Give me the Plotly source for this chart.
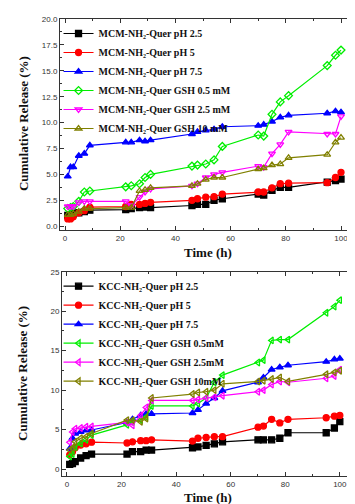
import plotly.graph_objects as go

# ---------------- data ----------------
time_h = [1, 2, 3, 5, 7, 9, 22, 24, 27, 29, 31, 46, 48, 51, 54, 57, 70, 72, 75, 78, 81, 95, 98, 100]

# MCM-NH2-Quer (top panel)
mcm_names = ["MCM-NH₂-Quer pH 2.5", "MCM-NH₂-Quer pH 5", "MCM-NH₂-Quer pH 7.5",
             "MCM-NH₂-Quer GSH 0.5 mM", "MCM-NH₂-Quer GSH 2.5 mM", "MCM-NH₂-Quer GSH 10 mM"]
mcm_ph25 = [1.05, 1.1, 1.2, 1.3, 1.4, 1.55, 1.6, 1.7, 1.8, 1.85, 1.8, 2.0, 2.1, 2.1, 2.5, 2.65, 3.1, 3.0, 3.45, 3.75, 3.75, 4.25, 4.4, 4.55]
mcm_ph5 = [0.7, 0.7, 0.9, 1.3, 1.5, 1.85, 1.9, 2.1, 2.1, 2.2, 2.3, 2.5, 2.65, 2.8, 2.85, 3.1, 3.3, 3.3, 3.7, 4.1, 4.15, 4.2, 4.7, 5.2]
mcm_ph75 = [4.8, 5.7, 5.7, 6.8, 7.0, 7.8, 8.1, 8.1, 8.3, 8.2, 8.3, 8.9, 9.1, 9.25, 9.35, 9.6, 9.7, 9.8, 10.1, 10.5, 10.7, 10.9, 11.1, 11.0]
mcm_gsh05 = [1.7, 1.8, 1.9, 2.4, 3.3, 3.4, 3.8, 3.9, 4.1, 4.7, 5.0, 5.8, 5.9, 6.0, 6.4, 7.7, 8.8, 8.7, 10.8, 12.0, 12.6, 15.5, 16.5, 17.0]
mcm_gsh25 = [1.9, 1.9, 1.9, 2.3, 2.4, 2.4, 2.4, 2.0, 2.8, 3.3, 3.6, 3.9, 4.1, 4.7, 5.0, 5.2, 5.8, 5.7, 7.0, 7.9, 9.1, 8.9, 8.9, 10.6]
mcm_gsh10 = [1.1, 1.1, 1.2, 1.4, 1.7, 1.7, 1.8, 1.8, 3.4, 3.5, 3.7, 3.9, 4.1, 4.5, 4.7, 4.7, 5.5, 5.6, 5.9, 6.0, 6.6, 6.9, 8.1, 8.55]

# KCC-NH2-Quer (bottom panel)
kcc_names = ["KCC-NH₂-Quer pH 2.5", "KCC-NH₂-Quer pH 5", "KCC-NH₂-Quer pH 7.5",
             "KCC-NH₂-Quer GSH 0.5mM", "KCC-NH₂-Quer GSH 2.5mM", "KCC-NH₂-Quer GSH 10mM"]
kcc_ph25 = [0.6, 0.7, 0.95, 1.4, 1.7, 1.9, 1.9, 2.2, 2.2, 2.4, 2.4, 2.7, 2.8, 3.0, 3.2, 3.45, 3.7, 3.7, 3.7, 3.9, 4.6, 4.6, 5.2, 6.0]
kcc_ph5 = [1.8, 2.2, 2.7, 3.05, 3.2, 3.4, 3.3, 3.45, 3.6, 3.6, 3.7, 3.55, 3.9, 4.0, 4.1, 4.1, 5.3, 5.45, 6.3, 5.85, 6.3, 6.5, 6.7, 6.8]
kcc_ph75 = [2.6, 3.9, 4.5, 4.7, 4.9, 4.95, 5.9, 6.3, 6.8, 7.0, 7.0, 7.1, 7.5, 8.3, 9.0, 9.9, 11.0, 11.6, 12.6, 12.9, 13.15, 13.6, 13.9, 14.0]
kcc_gsh05 = [1.6, 1.9, 2.8, 3.25, 3.7, 4.3, 5.6, 6.0, 6.2, 6.6, 8.0, 8.0, 8.3, 9.0, 11.0, 11.9, 13.5, 13.8, 16.3, 16.4, 16.4, 19.8, 20.6, 21.4]
kcc_gsh25 = [3.4, 4.7, 5.1, 5.2, 5.35, 5.4, 5.9, 5.55, 6.8, 7.8, 8.7, 8.7, 8.8, 9.0, 9.1, 9.3, 9.8, 10.0, 10.7, 11.1, 11.0, 11.5, 11.8, 12.6]
kcc_gsh10 = [2.4, 2.7, 3.45, 3.9, 4.1, 4.5, 6.2, 6.2, 6.0, 6.4, 9.0, 9.5, 9.7, 9.8, 10.0, 10.8, 11.1, 11.2, 11.4, 11.6, 11.1, 12.0, 12.25, 12.45]

colors = ["#000000", "#FF0000", "#0000FF", "#00EE00", "#FF00FF", "#808000"]
mcm_symbols = ["square", "circle", "triangle-up", "diamond-open", "triangle-down-open", "triangle-up-open"]
kcc_symbols = ["square", "circle", "triangle-up", "triangle-left-open", "triangle-left-open", "triangle-left-open"]

mcm_series = [mcm_ph25, mcm_ph5, mcm_ph75, mcm_gsh05, mcm_gsh25, mcm_gsh10]
kcc_series = [kcc_ph25, kcc_ph5, kcc_ph75, kcc_gsh05, kcc_gsh25, kcc_gsh10]

fig = go.Figure()
for name, ys, c, s in zip(mcm_names, mcm_series, colors, mcm_symbols):
    fig.add_trace(go.Scatter(x=time_h, y=ys, name=name, mode="lines+markers",
                             line=dict(color=c, width=1.2),
                             marker=dict(symbol=s, size=6, color=c, line=dict(color=c, width=1.3)),
                             xaxis="x", yaxis="y", legend="legend"))
for name, ys, c, s in zip(kcc_names, kcc_series, colors, kcc_symbols):
    fig.add_trace(go.Scatter(x=time_h, y=ys, name=name, mode="lines+markers",
                             line=dict(color=c, width=1.2),
                             marker=dict(symbol=s, size=6, color=c, line=dict(color=c, width=1.3)),
                             xaxis="x2", yaxis="y2", legend="legend2"))

tickfont = dict(family="Liberation Sans, Arial", size=8, color="#333333")
axis_common = dict(showline=True, linecolor="#333333", linewidth=1, mirror="ticks",
                   ticks="inside", ticklen=4, tickcolor="#333333", showgrid=False, zeroline=False,
                   tickfont=tickfont)
minor_style = dict(ticks="inside", ticklen=2, tickcolor="#333333")

legend_font = dict(family="Liberation Serif, Times New Roman", size=10, color="#111111", weight="bold")

fig.update_layout(
    width=355, height=504,
    margin=dict(l=52, r=8, t=7, b=36),
    paper_bgcolor="white", plot_bgcolor="white",
    showlegend=True,
    xaxis=dict(domain=[0, 1], range=[-1.81, 105.07], tickvals=[0, 20, 40, 60, 80, 100],
               minor=dict(dtick=10, tick0=0, **minor_style), anchor="y", **axis_common),
    yaxis=dict(domain=[0.538, 1], range=[-0.38, 20], dtick=2.5, tick0=0, tickformat=".1f",
               minor=dict(dtick=1.25, tick0=0, **minor_style), anchor="x", **axis_common),
    xaxis2=dict(domain=[0.0068, 0.993], range=[-1.83, 104.8], tickvals=[0, 20, 40, 60, 80, 100],
                minor=dict(dtick=10, tick0=0, **minor_style), anchor="y2", **axis_common),
    yaxis2=dict(domain=[0, 0.447], range=[-0.88, 25], dtick=5, tick0=0,
                minor=dict(dtick=2.5, tick0=0, **minor_style), anchor="x2", **axis_common),
    legend=dict(x=-0.005, y=1.0, xanchor="left", yanchor="top", bgcolor="rgba(0,0,0,0)",
                font=legend_font, itemwidth=30, tracegroupgap=0),
    legend2=dict(x=-0.005, y=0.447, xanchor="left", yanchor="top", bgcolor="rgba(0,0,0,0)",
                 font=legend_font, itemwidth=30, tracegroupgap=0),
)

title_font = dict(family="Liberation Serif, Times New Roman", size=13, color="#111111")
annotations = [
    dict(text="<b>Cumulative Release (%)</b>", textangle=-90, x=15, y=113),
    dict(text="<b>Cumulative Release (%)</b>", textangle=-90, x=15, y=365),
    dict(text="<b>Time (h)</b>", x=200, y=243),
    dict(text="<b>Time (h)</b>", x=200, y=490),
]
pw, ph = 355 - 52 - 8, 504 - 7 - 36
for a in annotations:
    px, py = a["x"], a["y"]
    a["x"] = (px - 52) / pw
    a["y"] = (504 - 36 - py) / ph
    a.update(showarrow=False, font=title_font, xanchor="center", yanchor="middle",
             xref="paper", yref="paper")
fig.update_layout(annotations=annotations)

fig.write_html("out.html")
